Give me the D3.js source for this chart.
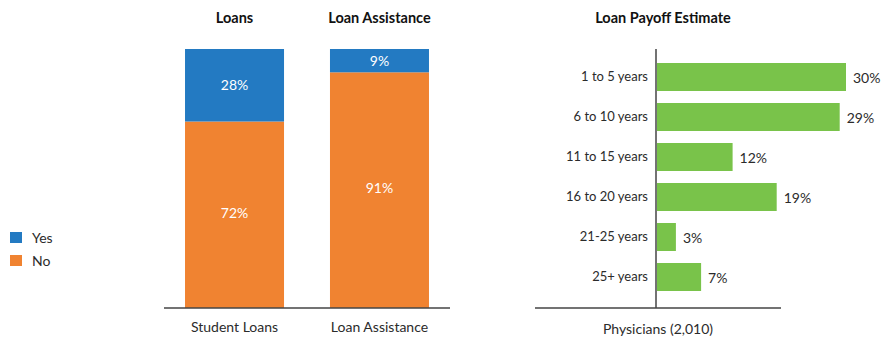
<!DOCTYPE html>
<html><head><meta charset="utf-8">
<script src="https://cdn.jsdelivr.net/npm/d3@7"></script>
<style>
html,body{margin:0;padding:0;background:#fff;}
text{font-family:Lato,"Open Sans",sans-serif;}
</style></head>
<body><svg id="c" width="885" height="348"></svg>
<script>
const stackCategories = ["Student Loans", "Loan Assistance"];
const stackTitles = ["Loans", "Loan Assistance"];
const yesValues = [28, 9];
const noValues = [72, 91];
const legendLabels = ["Yes", "No"];

const payoffCategories = ["1 to 5 years", "6 to 10 years", "11 to 15 years", "16 to 20 years", "21-25 years", "25+ years"];
const payoffValues = [30, 29, 12, 19, 3, 7];
const payoffTitle = "Loan Payoff Estimate";
const payoffAxisLabel = "Physicians (2,010)";

const blue = "#237ac2", orange = "#f08331", green = "#79c34a", axisC = "#444", textC = "#2b2b2b";
const svg = d3.select("#c");

// ---- stacked bars ----
const x1 = d3.scaleBand().domain(stackCategories).range([164, 450]).paddingInner(0.317).paddingOuter(0.145);
const y1 = d3.scaleLinear().domain([0, 100]).range([308, 49]);

const g1 = svg.append("g");
stackCategories.forEach((c, i) => {
  const x = x1(c), w = x1.bandwidth();
  const no = noValues[i], yes = yesValues[i];
  g1.append("rect").attr("x", x).attr("y", y1(no)).attr("width", w).attr("height", y1(0) - y1(no)).attr("fill", orange);
  g1.append("rect").attr("x", x).attr("y", y1(no + yes)).attr("width", w).attr("height", y1(no) - y1(no + yes)).attr("fill", blue);
  g1.append("text").attr("x", x + w / 2).attr("y", (y1(no) + y1(no + yes)) / 2).attr("dy", "0.35em")
    .attr("text-anchor", "middle").attr("fill", "#fff").attr("font-size", 14).text(yes + "%");
  g1.append("text").attr("x", x + w / 2).attr("y", (y1(0) + y1(no)) / 2 - 2).attr("dy", "0.35em")
    .attr("text-anchor", "middle").attr("fill", "#fff").attr("font-size", 14).text(no + "%");
  g1.append("text").attr("x", x + w / 2).attr("y", 18).attr("dy", "0.35em")
    .attr("text-anchor", "middle").attr("fill", "#111").attr("font-size", 14.5).attr("font-weight", "bold").text(stackTitles[i]);
});
const ax1 = g1.append("g").attr("transform", "translate(0,308)")
  .call(d3.axisBottom(x1).tickSize(0).tickPadding(14));
ax1.select(".domain").attr("stroke", axisC).attr("stroke-width", 1.5).attr("d", "M164,0H450");
ax1.selectAll("text").attr("font-size", 14).attr("fill", textC).attr("font-family", "Lato");

// legend
const legColors = [blue, orange];
legendLabels.forEach((l, i) => {
  const ly = 238 + i * 23;
  svg.append("rect").attr("x", 10).attr("y", ly - 6).attr("width", 12).attr("height", 11).attr("fill", legColors[i]);
  svg.append("text").attr("x", 32).attr("y", ly).attr("dy", "0.35em").attr("font-size", 14).attr("fill", textC).text(l);
});

// ---- horizontal bars ----
const y2 = d3.scaleBand().domain(payoffCategories).range([57, 297]).paddingInner(0.3).paddingOuter(0.15);
const x2 = d3.scaleLinear().domain([0, 30]).range([657, 846]);
const g2 = svg.append("g");
g2.selectAll("rect.b").data(payoffCategories).enter().append("rect")
  .attr("x", x2(0)).attr("y", d => y2(d)).attr("width", (d, i) => x2(payoffValues[i]) - x2(0))
  .attr("height", y2.bandwidth()).attr("fill", green);
g2.selectAll("text.v").data(payoffCategories).enter().append("text")
  .attr("x", (d, i) => x2(payoffValues[i]) + 7).attr("y", d => y2(d) + y2.bandwidth() / 2 + 1).attr("dy", "0.35em")
  .attr("font-size", 14).attr("fill", textC).text((d, i) => payoffValues[i] + "%");
const ay = g2.append("g").attr("transform", "translate(656,0)").call(d3.axisLeft(y2).tickSize(0).tickPadding(8));
ay.select(".domain").remove();
ay.selectAll("text").attr("font-size", 13).attr("fill", textC).attr("font-family", "Lato");
g2.append("line").attr("x1", 656).attr("x2", 656).attr("y1", 49).attr("y2", 308).attr("stroke", axisC).attr("stroke-width", 1.5);
g2.append("line").attr("x1", 535).attr("x2", 781).attr("y1", 308).attr("y2", 308).attr("stroke", axisC).attr("stroke-width", 1.5);
g2.append("text").attr("x", 658).attr("y", 329).attr("dy", "0.35em").attr("text-anchor", "middle")
  .attr("font-size", 14).attr("fill", textC).text(payoffAxisLabel);
g2.append("text").attr("x", 663).attr("y", 18).attr("dy", "0.35em").attr("text-anchor", "middle")
  .attr("font-size", 14.5).attr("font-weight", "bold").attr("fill", "#111").text(payoffTitle);
</script></body></html>
